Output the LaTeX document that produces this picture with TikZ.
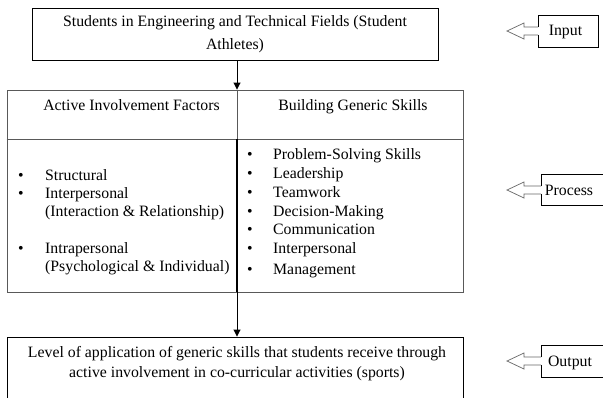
\documentclass[tikz,border=0pt]{standalone}
\usepackage{fontspec}
\setmainfont{Liberation Serif}
\usetikzlibrary{arrows.meta}
\begin{document}
\begin{tikzpicture}[x=1pt,y=-1pt,
  every node/.style={inner sep=0pt, font=\fontsize{15.8}{18.5}\selectfont},
  box/.style={draw=black, line width=0.9pt},
  grid/.style={draw=black!65, line width=0.9pt},
  txt/.style={anchor=base},
  item/.style={anchor=base west},
  bul/.style={anchor=base},
  flow/.style={line width=0.9pt, -{Triangle[length=7pt,width=7pt]}},
  tag/.style={draw=black, line width=0.8pt},
  tagarrow/.style={draw=black!60, line width=0.7pt},
]
\clip (0,0) rectangle (603,397);
\fill[white] (0,0) rectangle (603,397);

% input box
\node[box, minimum width=406pt, minimum height=52pt] (src) at (235,34) {};
\node[txt] (srcA) at (235,26) {Students in Engineering and Technical Fields (Student};
\node[txt] (srcB) at (235,49) {Athletes)};

% process table
\node[grid, minimum width=456pt, minimum height=202pt] (proc) at (235,191) {};
\coordinate (split) at (237,90);
\coordinate (hdr) at (237,139);
\draw[grid] (proc.west |- hdr) -- (proc.east |- hdr);
\draw[grid] (proc.north -| split) -- (hdr);
\draw[line width=1.1pt] (hdr) -- (proc.south -| split);

\node[txt] (hL) at (131.5,110) {Active Involvement Factors};
\node[txt] (hR) at (353,110) {Building Generic Skills};

% factors
\node[bul] (bL1) at (21,180) {•};
\node[item] (iL1) at (45,180) {Structural};
\node[bul] (bL2) at (21,198) {•};
\node[item] (iL2) at (45,198) {Interpersonal};
\node[item] (iL2b) at (45,216) {(Interaction \& Relationship)};
\node[bul] (bL3) at (21,253) {•};
\node[item] (iL3) at (45,253) {Intrapersonal};
\node[item] (iL3b) at (45,271) {(Psychological \& Individual)};

% skills
\foreach \t/\y [count=\k] in {Problem-Solving Skills/159, Leadership/178, Teamwork/197,
    Decision-Making/216, Communication/234, Interpersonal/253, Management/274}{
  \node[bul] (bR\k) at (250,\y) {•};
  \node[item] (iR\k) at (273,\y) {\t};
}

% output box
\node[box, minimum width=456pt, minimum height=70pt] (res) at (235,372) {};
\node[txt] (resA) at (237,357) {Level of application of generic skills that students receive through};
\node[txt] (resB) at (237,377) {active involvement in co-curricular activities (sports)};

% flow arrows
\draw[flow] (src.south -| split) -- (proc.north -| split);
\draw[flow] (proc.south -| split) -- (res.north -| split);

% stage tags
\node[txt] (tIn) at (565.5,35) {Input};
\draw[tag] (538,27) -- (538,15) -- (598,15) -- (598,47) -- (538,47) -- (538,35);
\draw[tagarrow] (538,27) -- (524,27) -- (524,23) -- (507,31) -- (524,39) -- (524,35) -- (538,35);

\node[txt] (tProc) at (569,195) {Process};
\draw[tag] (541,186) -- (541,174) -- (610,174) -- (610,205) -- (541,205) -- (541,194);
\draw[tagarrow] (541,186) -- (524,186) -- (524,182) -- (507,190) -- (524,198) -- (524,194) -- (541,194);

\node[txt] (tOut) at (570,366) {Output};
\draw[tag] (541,357) -- (541,345) -- (610,345) -- (610,377) -- (541,377) -- (541,365);
\draw[tagarrow] (541,357) -- (524,357) -- (524,353) -- (507,361) -- (524,369) -- (524,365) -- (541,365);
\end{tikzpicture}
\end{document}
